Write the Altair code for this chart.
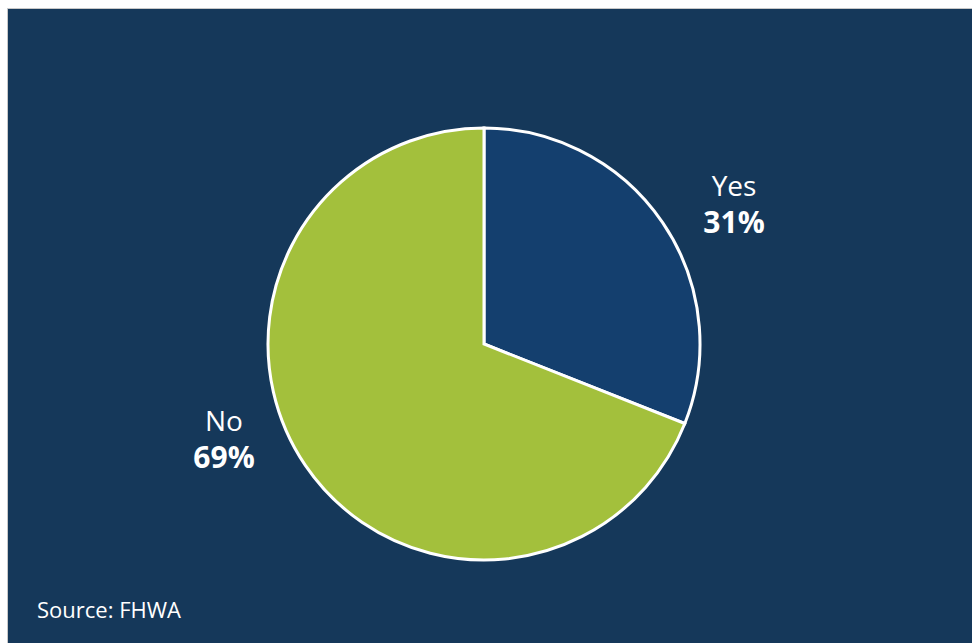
import altair as alt
import pandas as pd

categories = ["Yes", "No"]
values = [31, 69]
colors = ["#143f6e", "#a3c03c"]
source_text = ["Source: FHWA"]

df = pd.DataFrame({"category": categories, "value": values, "order": [0, 1]})
df["pct"] = df["value"].astype(str) + "%"

BG = "#15385a"
FONT = "Open Sans"
CX, CY, R = 477, 336, 216

pie = alt.Chart(df).mark_arc(radius=R, stroke="white", strokeWidth=3).encode(
    theta=alt.Theta("value:Q", stack=True),
    order=alt.Order("order:Q"),
    color=alt.Color("category:N", scale=alt.Scale(domain=categories, range=colors), legend=None),
    x=alt.value(CX),
    y=alt.value(CY),
)

def label_layers(cat, lx, ly):
    b = alt.Chart(df).transform_filter(alt.datum.category == cat).encode(
        x=alt.value(lx))
    t1 = b.mark_text(font=FONT, fontSize=28, color="white",
                     align="center", baseline="middle").encode(text="category:N", y=alt.value(ly))
    t2 = b.mark_text(font=FONT, fontSize=30, fontWeight="bold",
                     color="white", align="center", baseline="middle").encode(text="pct:N", y=alt.value(ly + 36))
    return [t1, t2]

labels = label_layers("Yes", 727, 180) + label_layers("No", 217, 415)

src = alt.Chart(pd.DataFrame({"t": source_text})).mark_text(
    font=FONT, fontSize=22, color="white", align="left", baseline="middle"
).encode(text="t:N", x=alt.value(30), y=alt.value(603))

chart = alt.layer(pie, *labels, src).properties(
    width=965, height=635,
    padding={"left": 7, "top": 8, "right": 0, "bottom": 0},
    autosize=alt.AutoSizeParams(type="none"),
    background="white",
).configure_view(fill=BG, stroke="#c8c8c8", strokeWidth=1)

chart.save("out.html", embed_options={"renderer": "svg", "actions": False})
